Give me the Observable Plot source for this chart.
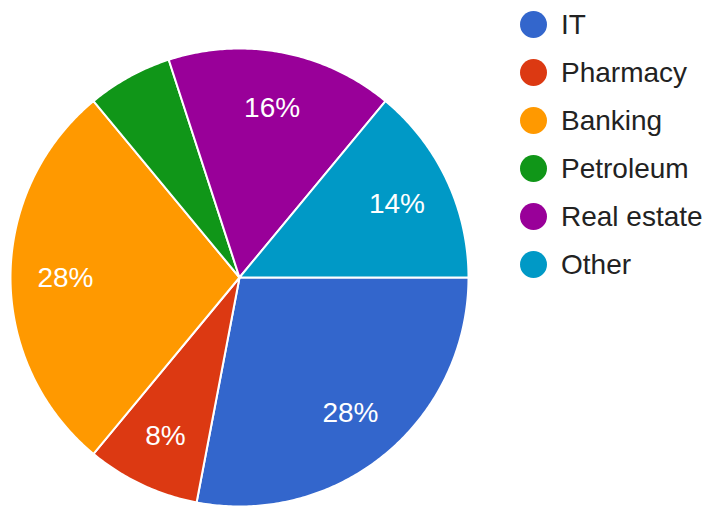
<!DOCTYPE html>
<html>
<head>
<meta charset="utf-8">
<script src="https://cdn.jsdelivr.net/npm/d3@7"></script>
<script src="https://cdn.jsdelivr.net/npm/@observablehq/plot@0.6"></script>
<style>
  html, body { margin: 0; padding: 0; background: #fff; }
  #wrap { position: relative; width: 711px; height: 507px; overflow: hidden; font-family: "Liberation Sans", Arial, sans-serif; }
  #chart { position: absolute; left: 0; top: 0; }
  #legend { position: absolute; left: 520px; top: 0; }
  .item { height: 48px; display: flex; align-items: center; }
  .sw { width: 27px; height: 27px; border-radius: 50%; margin-right: 14px; flex: none; }
  .lab { font-size: 28px; color: #222; line-height: 1; position: relative; top: 1px; }
</style>
</head>
<body>
<div id="wrap"><div id="chart"></div><div id="legend"></div></div>
<script>
const categories = ["IT", "Pharmacy", "Banking", "Petroleum", "Real estate", "Other"];
const shares = [28, 8, 28, 6, 16, 14];
const colors = ["#3366cc", "#dc3912", "#ff9900", "#109618", "#990099", "#0099c6"];
const labelThreshold = 7;

const data = categories.map((name, i) => ({name, value: shares[i]}));
const arcs = d3.pie().value(d => d.value).sort(null)
  .startAngle(Math.PI / 2).endAngle(Math.PI / 2 + 2 * Math.PI)(data);

// polygon outline of each slice (centre + arc), derived from the pie angles
const outline = [];
for (const a of arcs) {
  outline.push({name: a.data.name, x: 0, y: 0});
  const steps = Math.max(8, Math.ceil((a.endAngle - a.startAngle) / 0.01));
  for (let k = 0; k <= steps; k++) {
    const t = a.startAngle + (a.endAngle - a.startAngle) * k / steps;
    outline.push({name: a.data.name, x: Math.sin(t), y: Math.cos(t)});
  }
}
const labels = arcs.filter(a => a.data.value >= labelThreshold).map(a => {
  const m = (a.startAngle + a.endAngle) / 2;
  return {text: a.data.value + "%", x: 0.76 * Math.sin(m), y: 0.76 * Math.cos(m)};
});

const plot = Plot.plot({
  width: 711, height: 507,
  margin: 0,
  x: {domain: [-1, 1], range: [10, 468], axis: null},
  y: {domain: [-1, 1], range: [506, 48], axis: null},
  color: {domain: categories, range: colors},
  style: {background: "transparent", fontFamily: "'Liberation Sans', Arial, sans-serif"},
  marks: [
    Plot.line(outline, {x: "x", y: "y", z: "name", fill: "name", stroke: "white", strokeWidth: 2, curve: "linear-closed", strokeLinejoin: "round"}),
    Plot.text(labels, {x: "x", y: "y", text: "text", fill: "white", fontSize: 28, dy: 1})
  ]
});
document.getElementById("chart").appendChild(plot);

const legend = document.getElementById("legend");
categories.forEach((c, i) => {
  const row = document.createElement("div");
  row.className = "item";
  const sw = document.createElement("div");
  sw.className = "sw";
  sw.style.background = colors[i];
  const lab = document.createElement("div");
  lab.className = "lab";
  lab.textContent = c;
  row.appendChild(sw); row.appendChild(lab);
  legend.appendChild(row);
});
</script>
</body>
</html>
